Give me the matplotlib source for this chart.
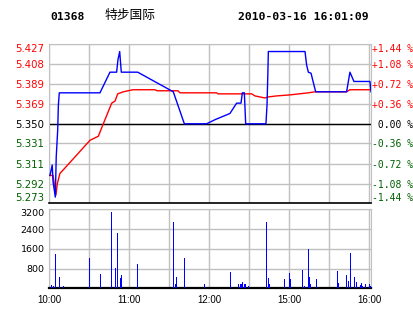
import matplotlib
matplotlib.use("Agg")
import matplotlib.pyplot as plt

# 前收盘价及刻度
prev_close = 5.350
price_ticks = [5.273, 5.292, 5.311, 5.331, 5.350, 5.369, 5.389, 5.408, 5.427]
pct_labels = ["-1.44 %", "-1.08 %", "-0.72 %", "-0.36 %", " 0.00 %",
              "+0.36 %", "+0.72 %", "+1.08 %", "+1.44 %"]
vol_ticks = [800, 1600, 2400, 3200]
time_ticks = [0, 60, 120, 180, 240]
time_labels = ["10:00", "11:00", "12:00", "15:00", "16:00"]

# 分时价格 (分钟, 价格)
price_min = [0.5, 2.2, 2.8, 4.5, 5.2, 6.3, 6.8, 7.5, 38, 45.5, 50.5, 51.5, 52.8, 54,
             66.3, 93, 101.3, 118, 124.3, 135.5, 140.5, 143.8, 144.8, 146.3, 146.8,
             147.3, 162.5, 163.3, 164, 164.3, 191.8, 193, 194.3, 196.3, 199.8, 223,
             225.5, 228.5, 240.5, 241.3]
price_val = [5.300, 5.310, 5.294, 5.279, 5.318, 5.344, 5.368, 5.380, 5.380, 5.400,
             5.400, 5.412, 5.420, 5.400, 5.400, 5.381, 5.350, 5.350, 5.354, 5.360,
             5.370, 5.370, 5.380, 5.380, 5.365, 5.350, 5.350, 5.368, 5.402, 5.420,
             5.420, 5.407, 5.400, 5.399, 5.381, 5.381, 5.400, 5.391, 5.391, 5.381]

# 均价线
avg_min = [0.5, 2.8, 5, 6, 8, 9.5, 30.5, 36.8, 40.5, 46.8, 49.3, 51.3, 55.5, 62.8,
           79.3, 80.8, 96.5, 98, 125.5, 126.5, 151.8, 154.3, 161.8, 164, 170.5,
           180.5, 194.3, 199.3, 223, 225.5, 241.3]
avg_val = [5.300, 5.300, 5.281, 5.292, 5.302, 5.304, 5.334, 5.338, 5.350, 5.370,
           5.372, 5.379, 5.381, 5.383, 5.383, 5.382, 5.382, 5.380, 5.380, 5.379,
           5.379, 5.377, 5.375, 5.376, 5.377, 5.378, 5.380, 5.381, 5.381, 5.383,
           5.383]

# 成交量
vol_min = [1, 3, 4.5, 7.5, 10.5, 30, 38, 46.5, 49.5, 51, 53, 54, 66, 93, 94.5, 95.3,
           101.3, 116.3, 135.8, 141.3, 143.3, 144, 144.8, 146.3, 147, 149.3, 162.8,
           164.3, 165, 176.3, 179.8, 180.5, 189.8, 191.3, 194.3, 195, 195.8, 200.3,
           216, 216.8, 222.8, 224.3, 225.8, 228.8, 230.3, 233.3, 234, 234.8, 237,
           240, 240.8]
vol_val = [130, 90, 1390, 445, 90, 1230, 580, 3080, 810, 2250, 430, 540, 985, 2690,
           175, 445, 1230, 175, 675, 175, 175, 175, 255, 175, 175, 90, 2690, 415, 175,
           375, 620, 375, 740, 90, 1590, 460, 175, 375, 700, 215, 540, 295, 1430, 460,
           255, 130, 215, 90, 175, 175, 90]

W, H = 414, 314
fig = plt.figure(figsize=(W / 100, H / 100), dpi=100)
fig.patch.set_facecolor("white")

grid_c = "#c0c0c0"
red = "#ff0000"
green = "#006000"
x0, x1 = 49.3, 371.0
xmax = 241.3

# 价格面板
ax = fig.add_axes([x0 / W, (H - 203.3) / H, (x1 - x0) / W, (203.3 - 44.3) / H])
ax.set_xlim(0, xmax)
ax.set_ylim(price_ticks[0], price_ticks[-1])
ax.set_xticks(range(0, 241, 30))
ax.set_yticks(price_ticks)
ax.grid(True, color=grid_c, lw=1.0)
ax.axhline(prev_close, color="black", lw=1.0, zorder=2)
ax.plot(avg_min, avg_val, color=red, lw=1.0, zorder=3)
ax.plot(price_min, price_val, color="#0000ff", lw=1.0, zorder=4)
ax.tick_params(length=0, labelbottom=False, pad=3.5)
ax.set_yticklabels(["%.3f" % v for v in price_ticks], fontsize=7.3, family="DejaVu Sans")
for v, lab in zip(price_ticks, ax.get_yticklabels()):
    lab.set_color(red if v > prev_close else ("black" if v == prev_close else green))
ax.get_yticklabels()[0].set_va("bottom")
ax.get_yticklabels()[-1].set_va("top")
for s in ["top", "left", "right"]:
    ax.spines[s].set_color(grid_c)
ax.spines["bottom"].set_color("black")
ax.spines["bottom"].set_linewidth(1.2)

axr = ax.twinx()
axr.set_ylim(ax.get_ylim())
axr.set_yticks(price_ticks)
axr.set_yticklabels(pct_labels, fontsize=7.0, family="DejaVu Sans Mono")
axr.tick_params(length=0, pad=0.8)
for v, lab in zip(price_ticks, axr.get_yticklabels()):
    lab.set_color(red if v > prev_close else ("black" if v == prev_close else green))
axr.get_yticklabels()[0].set_va("bottom")
axr.get_yticklabels()[-1].set_va("top")
for s in axr.spines.values():
    s.set_visible(False)

# 成交量面板
av = fig.add_axes([x0 / W, (H - 288.3) / H, (x1 - x0) / W, (288.3 - 209.3) / H])
av.set_xlim(0, xmax)
av.set_ylim(0, 3200)
av.set_yticks(vol_ticks)
av.grid(True, color=grid_c, lw=1.0)
av.vlines(vol_min, 0, vol_val, color="#0000ff", lw=0.72, zorder=3, antialiased=False)
av.tick_params(length=0, pad=3.5)
av.set_yticklabels([str(v) for v in vol_ticks], fontsize=6.8, family="DejaVu Sans")
av.get_yticklabels()[-1].set_va("top")
av.set_xticks(time_ticks)
av.set_xticklabels(time_labels, fontsize=7, family="Liberation Sans")
av.set_xticks(range(0, 241, 30), minor=True)
av.grid(True, which="minor", color=grid_c, lw=1.0)
av.tick_params(axis="x", which="both", length=0, pad=5)
for s in ["top", "left", "right"]:
    av.spines[s].set_color(grid_c)
av.spines["bottom"].set_color("black")
av.spines["bottom"].set_linewidth(1.6)

# 标题
fig.text(50 / W, 1 - 17 / H, "01368", fontsize=8.2, weight="bold",
         family="DejaVu Sans Mono", va="center", ha="left")
fig.text(105 / W, 1 - 16 / H, "特步国际", fontsize=9.2,
         family=["Noto Sans CJK SC", "DejaVu Sans"], va="center", ha="left")
fig.text(238 / W, 1 - 17 / H, "2010-03-16 16:01:09", fontsize=8.2, weight="bold",
         family="DejaVu Sans Mono", va="center", ha="left")

fig.savefig("out.png", dpi=100)
